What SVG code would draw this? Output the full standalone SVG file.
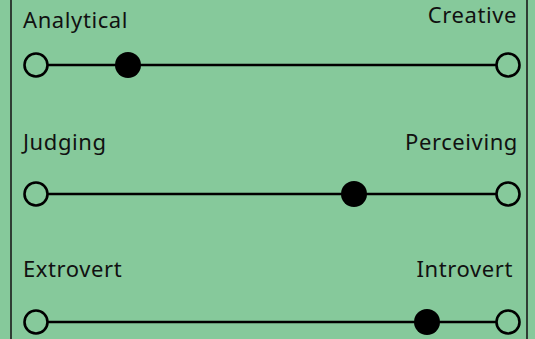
<svg xmlns="http://www.w3.org/2000/svg" width="535" height="339" viewBox="0 0 535 339">
  <style>
    .bg { fill: #86c99b; }
    .frame { stroke: #1a1a1a; stroke-width: 1.6; fill: none; }
    .track { stroke: #000; stroke-width: 2.6; fill: none; }
    .end { fill: none; stroke: #000; stroke-width: 2.6; }
    .knob { fill: #000; }
    .label { font-family: "Noto Sans", Lato, "Liberation Sans", sans-serif; font-size: 22px; letter-spacing: 0.6px; fill: #111; }
    .right { text-anchor: end; }
  </style>
  <rect class="bg" x="0" y="0" width="535" height="339"/>
  <line class="frame" x1="11" y1="0" x2="11" y2="339"/>
  <line class="frame" x1="527" y1="0" x2="527" y2="339"/>

  <g id="connectors">
    <line class="track" x1="48" y1="65" x2="496" y2="65"/>
    <line class="track" x1="48" y1="194" x2="496" y2="194"/>
    <line class="track" x1="48" y1="322" x2="496" y2="322"/>
  </g>

  <g id="scale-analytical-creative">
    <text class="label" x="23" y="28">Analytical</text>
    <text class="label right" x="517" y="23">Creative</text>
    <circle class="end" cx="36" cy="65" r="11.5"/>
    <circle class="end" cx="508" cy="65" r="11.5"/>
    <circle class="knob" cx="128" cy="65" r="13"/>
  </g>

  <g id="scale-judging-perceiving">
    <text class="label" x="23" y="150">Judging</text>
    <text class="label right" x="518" y="150">Perceiving</text>
    <circle class="end" cx="36" cy="194" r="11.5"/>
    <circle class="end" cx="508" cy="194" r="11.5"/>
    <circle class="knob" cx="354" cy="194" r="13"/>
  </g>

  <g id="scale-extrovert-introvert">
    <text class="label" x="23" y="277">Extrovert</text>
    <text class="label right" x="513" y="277">Introvert</text>
    <circle class="end" cx="36" cy="322" r="11.5"/>
    <circle class="end" cx="508" cy="322" r="11.5"/>
    <circle class="knob" cx="427" cy="322" r="13"/>
  </g>
</svg>
